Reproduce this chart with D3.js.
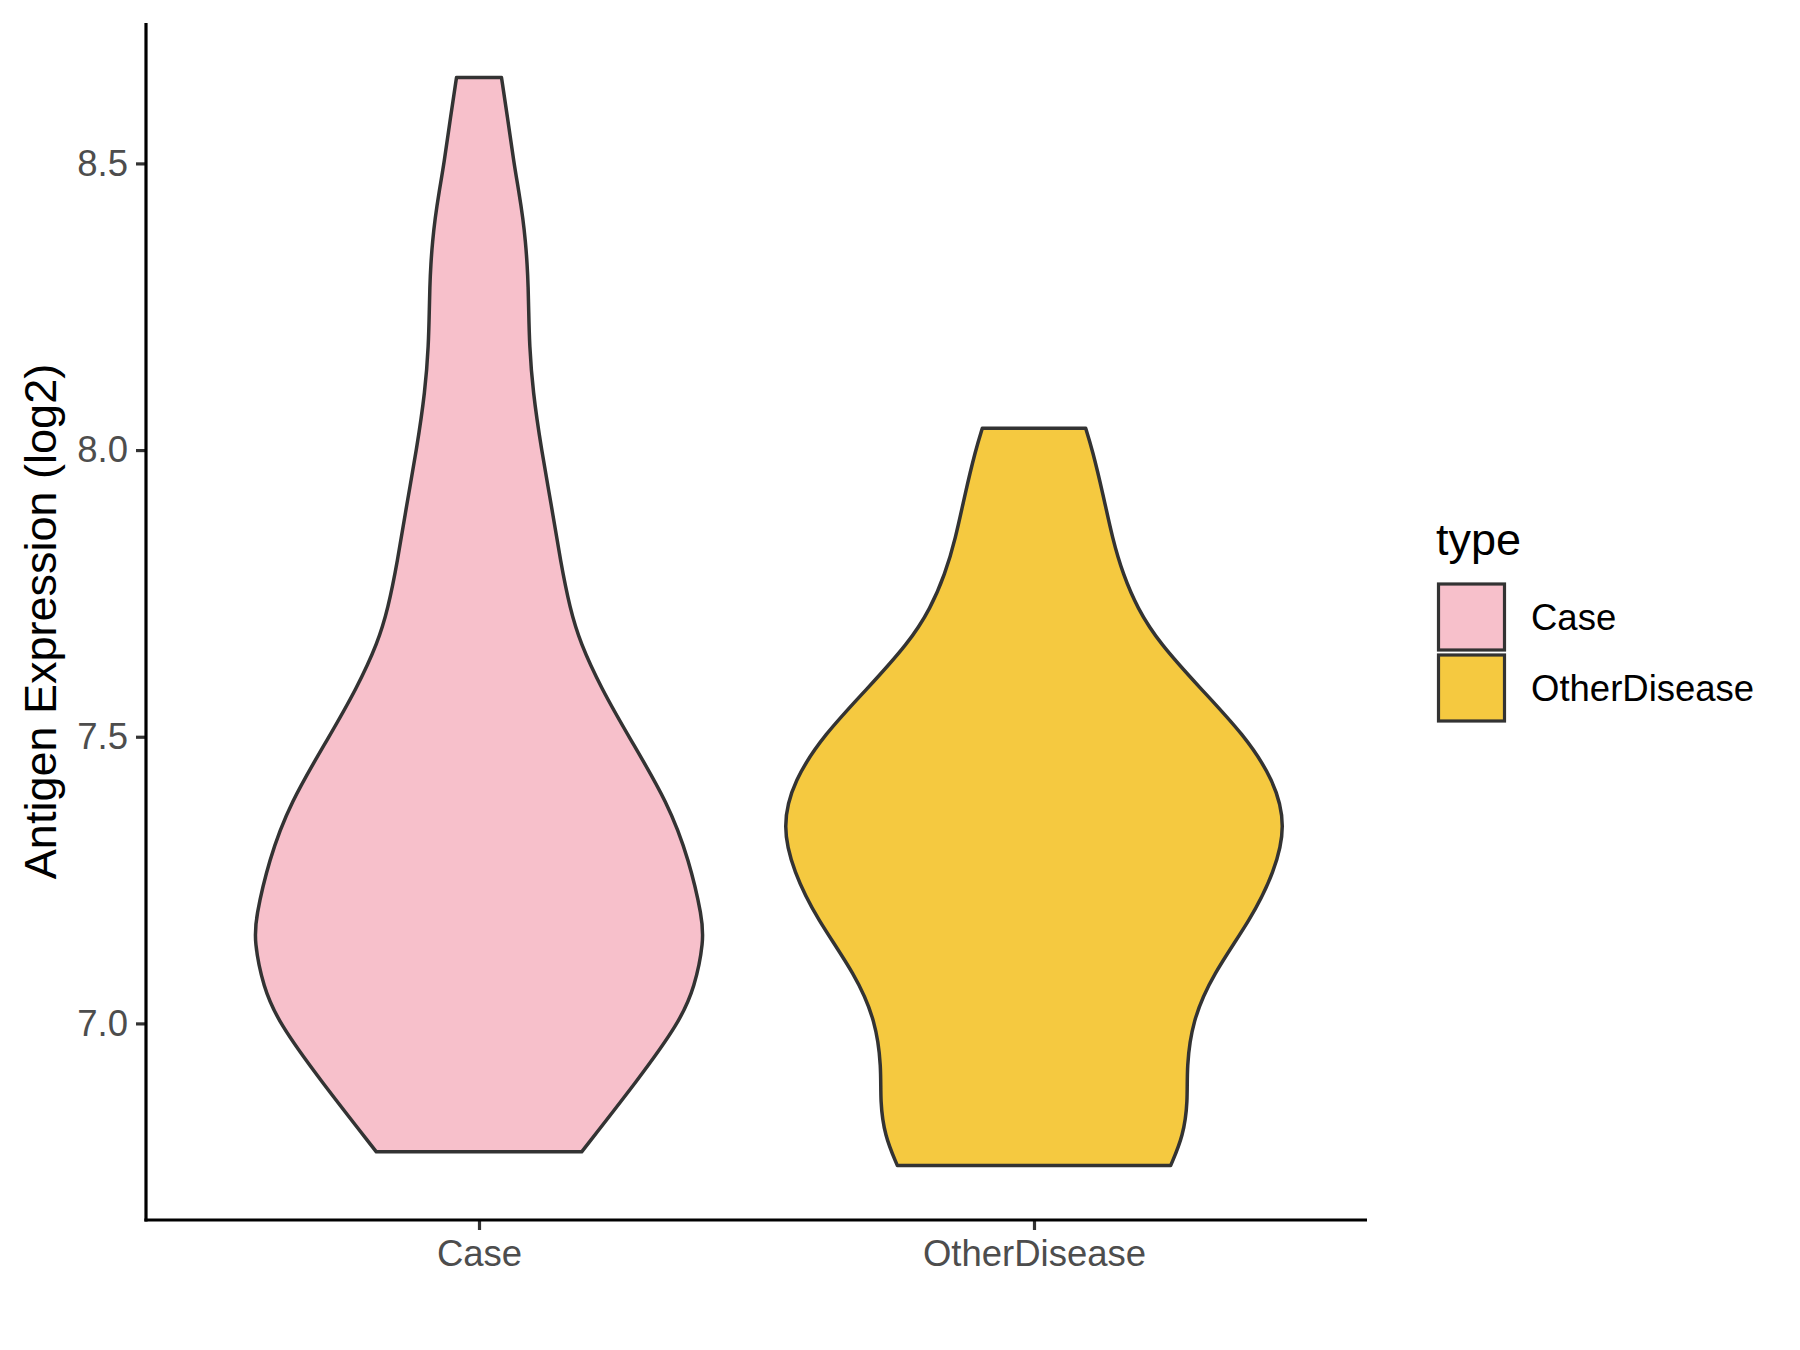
<!DOCTYPE html>
<html>
<head>
<meta charset="utf-8">
<script src="https://cdn.jsdelivr.net/npm/d3@7"></script>
<style>
    body { margin: 0; background: #fff; }
    text { font-family: "Liberation Sans", Arial, sans-serif; }
</style>
</head>
<body>
<div id="violin"></div>
<script>
const w = 1800,
    h = 1350;

const panel = {left: 146, right: 1367, top: 23, bottom: 1220};

const categories = ['Case', 'OtherDisease'];
const fillColors = ['#f7c0cb', '#f5c940'];
const yTicks = [7.0, 7.5, 8.0, 8.5];

// density profile (value, relative width)
const caseValues = [6.776, 6.904, 7.0, 7.064, 7.144, 7.184, 7.284, 7.384, 7.5, 7.584, 7.664, 7.724,
    7.804, 7.904, 8.0, 8.104, 8.184, 8.244, 8.284, 8.324, 8.364, 8.404, 8.45, 8.5, 8.584, 8.65];
const caseDensity = [0.411, 0.641, 0.8, 0.865, 0.9, 0.894, 0.842, 0.758, 0.6, 0.49, 0.405, 0.364,
    0.327, 0.29, 0.25, 0.215, 0.202, 0.199, 0.197, 0.193, 0.186, 0.176, 0.16, 0.14, 0.113, 0.09];

const otherValues = [6.752, 6.804, 6.864, 6.924, 7.004, 7.084, 7.184, 7.264, 7.344, 7.424, 7.504,
    7.584, 7.664, 7.724, 7.784, 7.844, 7.924, 8.0, 8.038];
const otherDensity = [0.547, 0.598, 0.616, 0.611, 0.634, 0.713, 0.872, 0.962, 1.01, 0.962, 0.84,
    0.667, 0.501, 0.414, 0.356, 0.315, 0.276, 0.234, 0.207];

const groups = [
    {name: categories[0], fill: fillColors[0], values: caseValues, density: caseDensity},
    {name: categories[1], fill: fillColors[1], values: otherValues, density: otherDensity}
];

const svg = d3.select("#violin")
    .append("svg")
    .attr("width", w)
    .attr("height", h);

// y scale with the ggplot style 5% expansion
let allValues = caseValues.concat(otherValues);
let yMin = d3.min(allValues), yMax = d3.max(allValues);
let pad = (yMax - yMin) * 0.05;

const y = d3.scaleLinear()
    .domain([yMin - pad, yMax + pad])
    .range([panel.bottom, panel.top]);

const x = d3.scalePoint()
    .domain(categories)
    .range([panel.left, panel.right])
    .padding(0.6);

const halfWidth = d3.scaleLinear()
    .domain([0, 1])
    .range([0, x.step() * 0.45]);

groups.forEach(function (g) {
    let pts = g.values.map(function (v, i) {
        return {v: v, d: g.density[i]};
    });
    let cx = x(g.name);
    let area = d3.area()
        .y(function (d) { return y(d.v); })
        .x0(function (d) { return cx - halfWidth(d.d); })
        .x1(function (d) { return cx + halfWidth(d.d); })
        .curve(d3.curveBasis);

    svg.append("path")
        .datum(pts)
        .attr("d", area)
        .attr("fill", g.fill)
        .attr("stroke", "#333333")
        .attr("stroke-width", 3.5)
        .attr("stroke-linejoin", "round");
});

// axes
let yAxis = svg.append("g")
    .attr("transform", "translate(" + panel.left + ",0)")
    .call(d3.axisLeft(y).tickValues(yTicks).tickFormat(d3.format(".1f")).tickSize(10).tickPadding(8));

let xAxis = svg.append("g")
    .attr("transform", "translate(0," + panel.bottom + ")")
    .call(d3.axisBottom(x).tickSize(10).tickPadding(10));

[xAxis, yAxis].forEach(function (a) {
    a.select(".domain").remove();
    a.selectAll(".tick line")
        .attr("stroke", "#333333")
        .attr("stroke-width", 3.2);
    a.selectAll(".tick text")
        .attr("fill", "#4d4d4d")
        .style("font-size", "36.5px");
});

svg.append("line")
    .attr("x1", panel.left).attr("x2", panel.left)
    .attr("y1", panel.top).attr("y2", panel.bottom + 1.6)
    .attr("stroke", "#000").attr("stroke-width", 3.2);

svg.append("line")
    .attr("x1", panel.left - 1.6).attr("x2", panel.right)
    .attr("y1", panel.bottom).attr("y2", panel.bottom)
    .attr("stroke", "#000").attr("stroke-width", 3.2);

svg.append("text")
    .attr("transform", "translate(56," + (panel.top + panel.bottom) / 2 + ") rotate(-90)")
    .attr("text-anchor", "middle")
    .style("font-size", "45px")
    .attr("fill", "#000")
    .text("Antigen Expression (log2)");

// legend
let legend = svg.append("g").attr("transform", "translate(1437,0)");

legend.append("text")
    .attr("x", -1)
    .attr("y", 555)
    .style("font-size", "45px")
    .text("type");

groups.forEach(function (g, i) {
    let top = 584 + i * 71;
    legend.append("rect")
        .attr("x", 1.5)
        .attr("y", top)
        .attr("width", 66)
        .attr("height", 66)
        .attr("fill", g.fill)
        .attr("stroke", "#333333")
        .attr("stroke-width", 3.2);
    legend.append("text")
        .attr("x", 94)
        .attr("y", top + 33)
        .attr("dy", "0.35em")
        .style("font-size", "36.5px")
        .text(g.name);
});
</script>
</body>
</html>
